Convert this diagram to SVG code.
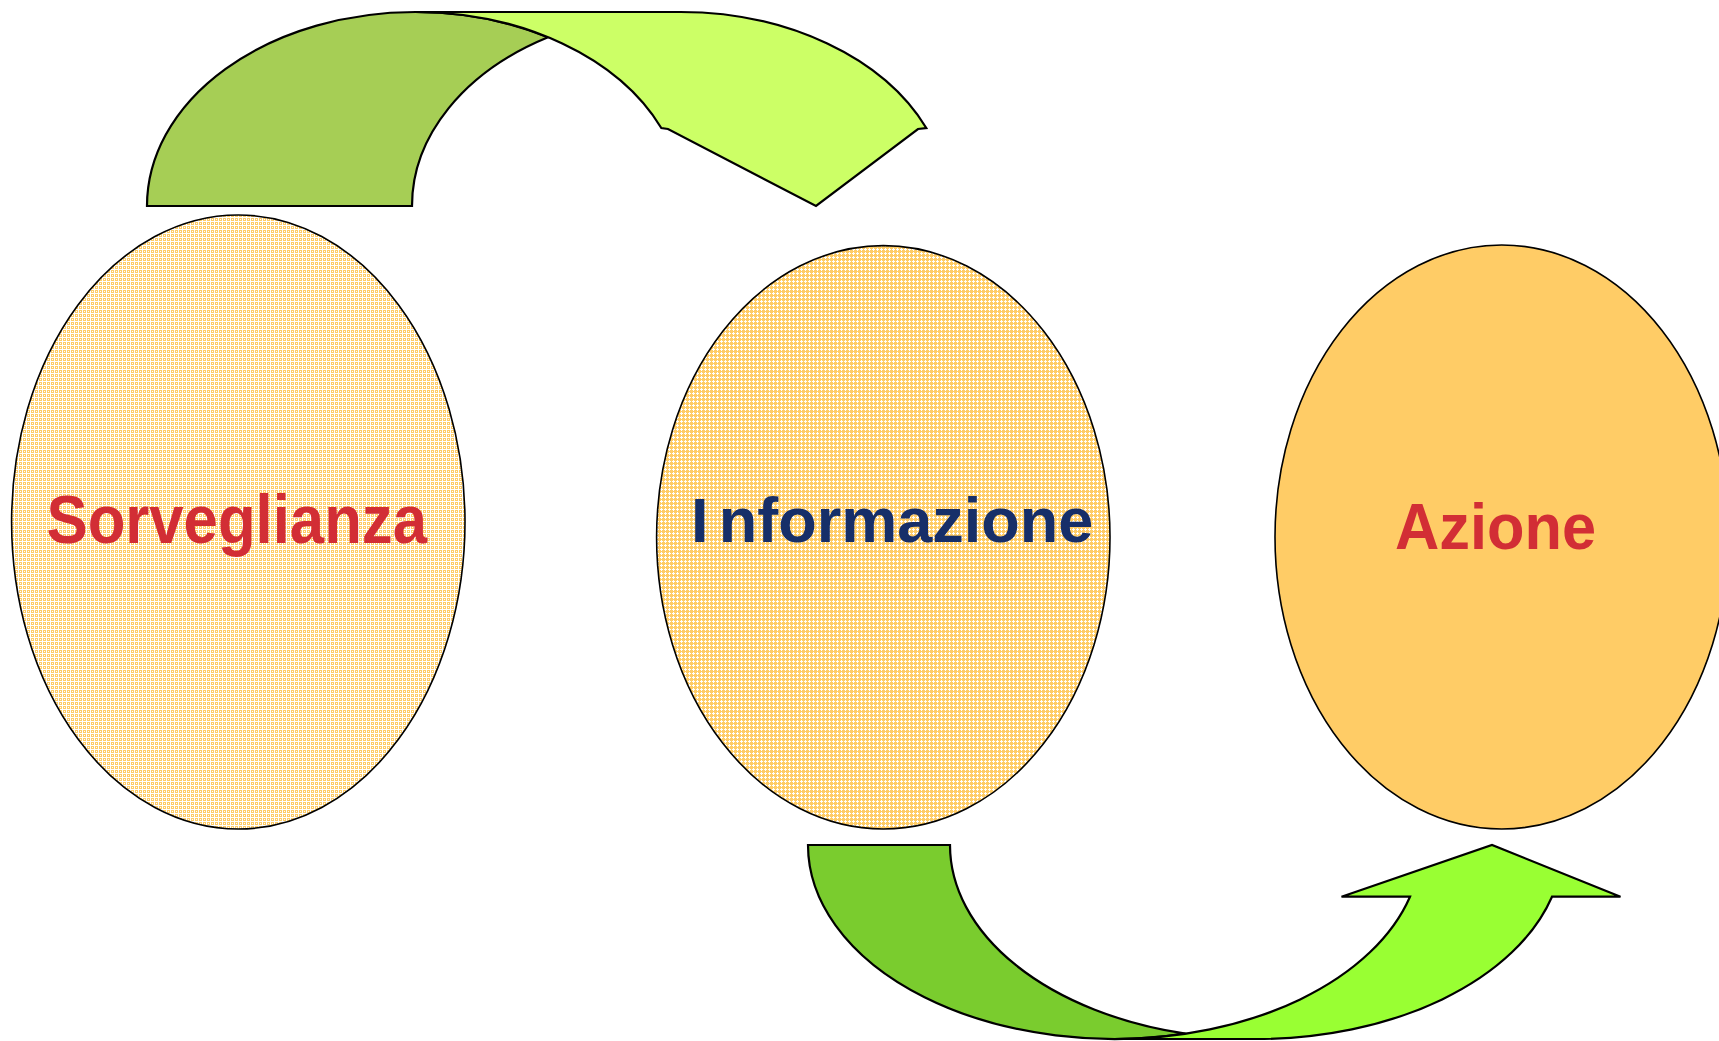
<svg xmlns="http://www.w3.org/2000/svg" width="1719" height="1041" viewBox="0 0 1719 1041">
  <style>
    .node { stroke: #000000; stroke-width: 1.6; }
    .arrow { stroke: #000000; stroke-width: 2.2; stroke-linejoin: miter; }
    .label { font-family: "Liberation Sans", Arial, sans-serif; font-weight: bold; }
    .red { fill: #D22E35; }
    .navy { fill: #172F69; }
  </style>
  <defs>
    <pattern id="dots1" width="4" height="4" patternUnits="userSpaceOnUse">
      <rect width="4" height="4" fill="#FFCC66"/>
      <rect x="0" y="1" width="4" height="1" fill="#FFFFFF"/>
      <rect x="2" y="0" width="1" height="4" fill="#FFFFFF"/>
      <rect x="0" y="3" width="1" height="1" fill="#FFFFFF"/>
    </pattern>
    <pattern id="dots2" width="4" height="4" patternUnits="userSpaceOnUse">
      <rect width="4" height="4" fill="#FFCC66"/>
      <rect x="0" y="1" width="3" height="1" fill="#FFFFFF"/>
      <rect x="1" y="0" width="1" height="3" fill="#FFFFFF"/>
    </pattern>
  </defs>
  <rect width="1719" height="1041" fill="#FFFFFF"/>

  <g id="connectors">
    <g id="arrow-sorveglianza-informazione">
      <path class="arrow" fill="#A6CE55" d="M 147,206 A 268.5 194 0 0 1 415.5,12 A 268.5 194 0 0 1 548,37.3 A 268.5 194 0 0 0 412,206 Z"/>
      <path class="arrow" fill="#CCFF66" d="M 415.5,12 L 680.5,12 A 268.5 194 0 0 1 926.3,128 L 918,129 L 816,206 L 668,129 L 661.3,128 A 268.5 194 0 0 0 415.5,12 Z"/>
    </g>
    <g id="arrow-informazione-azione">
      <path class="arrow" fill="#7ACC2E" d="M 808,845 L 950,845 A 306.5 194 0 0 0 1185.5,1033.7 A 306.5 194 0 0 1 808,845 Z"/>
      <path class="arrow" fill="#99FF33" d="M 1114.5,1039 L 1256.5,1039 A 306.5 194 0 0 0 1552,896.7 L 1620.5,896.7 L 1492,845 L 1341.5,896.7 L 1410,896.7 A 306.5 194 0 0 1 1114.5,1039 Z"/>
    </g>
  </g>

  <g id="node-sorveglianza">
    <ellipse class="node" cx="238.3" cy="522" rx="226.7" ry="307" fill="url(#dots1)"/>
    <text class="label red" x="46.5" y="542.7" font-size="68" textLength="380.5" lengthAdjust="spacingAndGlyphs">Sorveglianza</text>
  </g>

  <g id="node-informazione">
    <ellipse class="node" cx="883.3" cy="537.3" rx="226.7" ry="291.7" fill="url(#dots2)"/>
    <text class="label navy" x="691" y="542.3" font-size="63">I<tspan dx="10.2">nformazione</tspan></text>
  </g>

  <g id="node-azione">
    <ellipse class="node" cx="1501.7" cy="537" rx="226.7" ry="292" fill="#FFCC66"/>
    <text class="label red" x="1395" y="548.5" font-size="65" textLength="201" lengthAdjust="spacingAndGlyphs">Azione</text>
  </g>
</svg>
